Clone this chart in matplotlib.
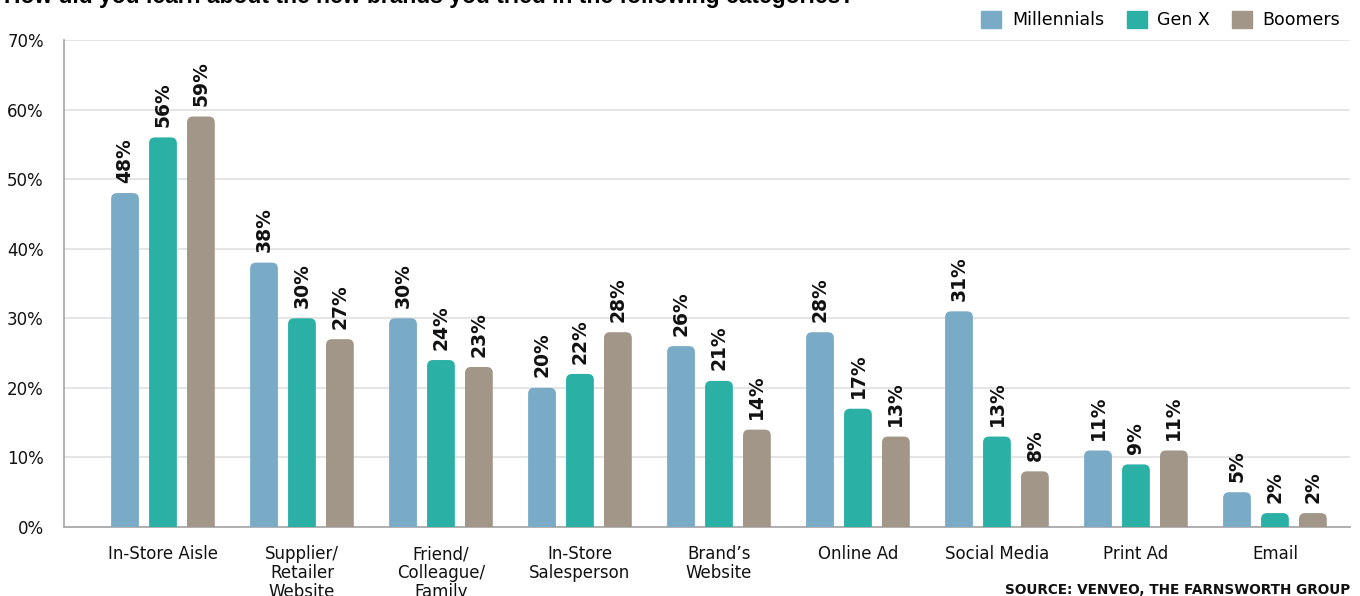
import numpy as np
import matplotlib
import matplotlib.pyplot as plt
from matplotlib.patches import FancyBboxPatch

matplotlib.use("Agg")
plt.rcParams["font.family"] = ["DejaVu Sans"]

categories = ["In-Store Aisle", "Supplier/\nRetailer\nWebsite", "Friend/\nColleague/\nFamily",
              "In-Store\nSalesperson", "Brand\u2019s\nWebsite", "Online Ad", "Social Media",
              "Print Ad", "Email"]
millennials = [48, 38, 30, 20, 26, 28, 31, 11, 5]
gen_x = [56, 30, 24, 22, 21, 17, 13, 9, 2]
boomers = [59, 27, 23, 28, 14, 13, 8, 11, 2]
series = ["Millennials", "Gen X", "Boomers"]
colors = ["#79aac6", "#2bb0a5", "#a29689"]
yticks = [0, 10, 20, 30, 40, 50, 60, 70]

W, H = 1360, 596
fig = plt.figure(figsize=(W / 100, H / 100), dpi=100)
ax_l, ax_r, ax_b, ax_t = 64, 1350, 527, 40
ax = fig.add_axes([ax_l / W, 1 - ax_b / H, (ax_r - ax_l) / W, (ax_b - ax_t) / H])

x = np.arange(len(categories))
xlim = (-0.712, 8.54)
ylim = (0, 70)
ax.set_xlim(*xlim)
ax.set_ylim(*ylim)

bw = 0.2
step = 0.273
px_x = (ax_r - ax_l) / (xlim[1] - xlim[0])   # px per x unit
px_y = (ax_b - ax_t) / (ylim[1] - ylim[0])   # px per y unit
rad = 6 / px_x
aspect = px_x / px_y

for i, (vals, name, col) in enumerate(zip([millennials, gen_x, boomers], series, colors)):
    pos = x + (i - 1) * step
    bars = ax.bar(pos, vals, width=bw, color=col, label=name, alpha=0)
    for b, v in zip(bars, vals):
        p = FancyBboxPatch((b.get_x(), -3), b.get_width(), b.get_height() + 3,
                           boxstyle=f"round,pad=0,rounding_size={rad}",
                           mutation_aspect=aspect, facecolor=col, edgecolor="none",
                           zorder=3, clip_on=True)
        ax.add_patch(p)
        ax.text(b.get_x() + b.get_width() / 2, v + 1.5, f"{v}%", rotation=90,
                ha="center", va="bottom", fontsize=13.5, fontweight="bold", color="#111111")

ax.set_yticks(yticks)
ax.set_yticklabels([f"{t}%" for t in yticks], fontsize=12, color="#111111")
ax.set_xticks(x)
ax.set_xticklabels(categories, fontsize=12, color="#111111", linespacing=1.08)
ax.tick_params(axis="y", length=0, pad=14.5)
ax.tick_params(axis="x", length=0, pad=13)
ax.grid(axis="y", color="#e3e3e3", linewidth=1.3, zorder=0)
ax.set_axisbelow(True)
for s in ["top", "right"]:
    ax.spines[s].set_visible(False)
for s in ["left", "bottom"]:
    ax.spines[s].set_color("#aaaaaa")
    ax.spines[s].set_linewidth(1.3)

handles = [plt.Rectangle((0, 0), 1, 1, color=c) for c in colors]
fig.legend(handles, series, loc="upper right", bbox_to_anchor=(1356 / W, 1 + 5 / H),
           ncol=3, frameon=False, fontsize=12.5, handlelength=1.15, handleheight=1.15,
           handletextpad=0.6, columnspacing=1.3)

fig.text(4 / W, 1 - 2.5 / H, "How did you learn about the new brands you tried in the following categories?",
         family="Liberation Sans", fontsize=16.5, fontweight="bold", va="baseline", ha="left")
fig.text(1350 / W, 1 - 590 / H, "SOURCE: VENVEO, THE FARNSWORTH GROUP",
         fontsize=9.8, fontweight="bold", ha="right", va="center", color="#111111")

fig.savefig("out.png", dpi=100)
